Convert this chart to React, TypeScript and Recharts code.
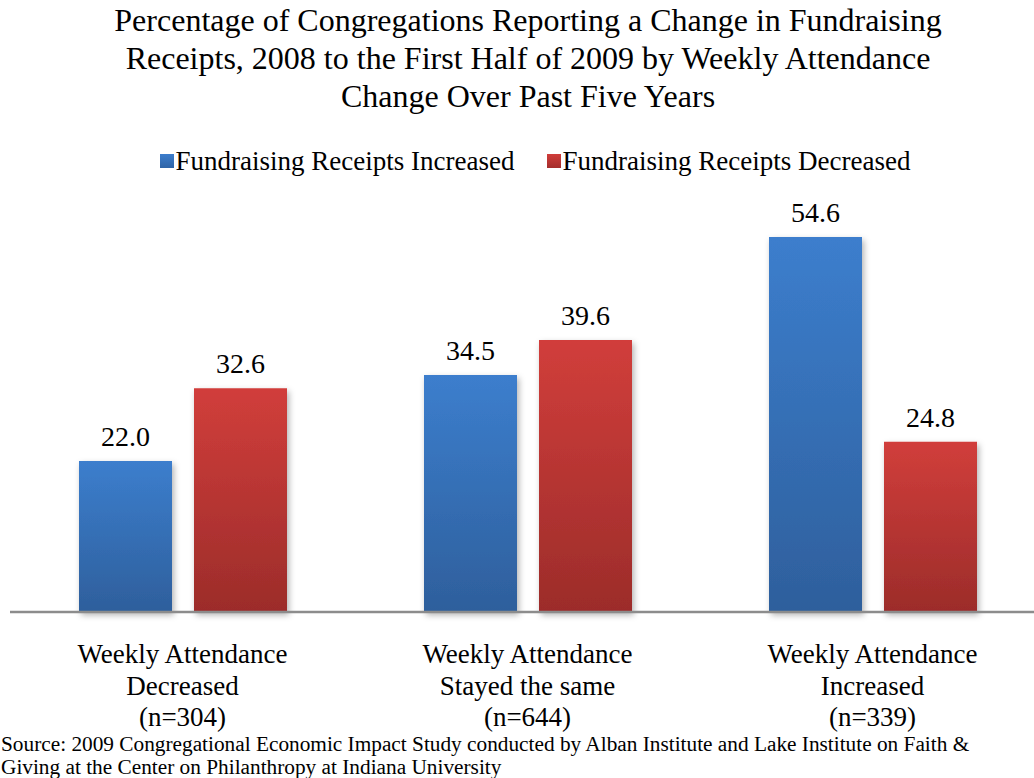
import React from 'react';
import { BarChart, Bar, XAxis, YAxis, LabelList } from 'recharts';

const categories = ['Weekly Attendance|Decreased|(n=304)', 'Weekly Attendance|Stayed the same|(n=644)', 'Weekly Attendance|Increased|(n=339)'];
const increased = [22.0, 34.5, 54.6];
const decreased = [32.6, 39.6, 24.8];

const data = categories.map((c, i) => ({ name: c, inc: increased[i], dec: decreased[i] }));

const FONT = '"Liberation Serif", "Times New Roman", serif';

const CategoryTick = (props: any) => {
  const { x, y, payload } = props;
  const lines = String(payload.value).split('|');
  return (
    <text x={x} y={y} textAnchor="middle" fontFamily={FONT} fontSize={27} fill="#000">
      {lines.map((l, i) => (
        <tspan key={i} x={x} dy={i === 0 ? 43 : 31.5}>{l}</tspan>
      ))}
    </text>
  );
};

export default function App() {
  return (
    <div style={{ position: 'absolute', left: 0, top: 0, width: 1034, height: 778, overflow: 'hidden', background: '#fff' }}>
      <div style={{ position: 'absolute', left: 0, top: 1, width: 1056, textAlign: 'center', fontFamily: FONT, fontSize: 32, lineHeight: '38px', color: '#000' }}>
        Percentage of Congregations Reporting a Change in Fundraising<br />
        Receipts, 2008 to the First Half of 2009 by Weekly Attendance<br />
        Change Over Past Five Years
      </div>
      <div style={{ position: 'absolute', left: 0, top: 145, width: 1050, display: 'flex', justifyContent: 'center', fontFamily: FONT, fontSize: 27, lineHeight: '32px', color: '#000', paddingLeft: 20, boxSizing: 'border-box' }}>
        <span style={{ display: 'flex', alignItems: 'center', marginRight: 32 }}>
          <span style={{ width: 14, height: 14, background: 'linear-gradient(#3c7dcc, #2f64a6)', marginRight: 2 }} />
          Fundraising Receipts Increased
        </span>
        <span style={{ display: 'flex', alignItems: 'center' }}>
          <span style={{ width: 14, height: 14, background: 'linear-gradient(#d03d3a, #a52e2c)', marginRight: 2 }} />
          Fundraising Receipts Decreased
        </span>
      </div>
      <BarChart width={1050} height={778} data={data} margin={{ top: 200, right: 5, left: 10, bottom: 0 }} barGap={22} barSize={93}>
        <defs>
          <linearGradient id="gBlue" x1="0" y1="0" x2="0" y2="1">
            <stop offset="0%" stopColor="#3c7ecd" />
            <stop offset="100%" stopColor="#2e5f9c" />
          </linearGradient>
          <linearGradient id="gRed" x1="0" y1="0" x2="0" y2="1">
            <stop offset="0%" stopColor="#d13e3b" />
            <stop offset="100%" stopColor="#9c2c2a" />
          </linearGradient>
          <filter id="shadow" x="-10%" y="-10%" width="130%" height="120%">
            <feDropShadow dx="2" dy="3" stdDeviation="3" floodColor="#000" floodOpacity="0.3" />
          </filter>
        </defs>
        <XAxis dataKey="name" height={166} tickLine={false} axisLine={{ stroke: '#8c8c8c', strokeWidth: 2.5 }} tick={<CategoryTick />} interval={0} />
        <YAxis hide domain={[0, 60]} />
        <Bar dataKey="inc" fill="url(#gBlue)" filter="url(#shadow)" isAnimationActive={false}>
          <LabelList dataKey="inc" position="top" offset={15} formatter={(v: any) => Number(v).toFixed(1)} style={{ fontFamily: FONT, fontSize: 28, fill: '#000' }} />
        </Bar>
        <Bar dataKey="dec" fill="url(#gRed)" filter="url(#shadow)" isAnimationActive={false}>
          <LabelList dataKey="dec" position="top" offset={15} formatter={(v: any) => Number(v).toFixed(1)} style={{ fontFamily: FONT, fontSize: 28, fill: '#000' }} />
        </Bar>
      </BarChart>
      <div style={{ position: 'absolute', left: 1, top: 733, fontFamily: FONT, fontSize: 21.3, lineHeight: '23px', color: '#000' }}>
        Source: 2009 Congregational Economic Impact Study conducted by Alban Institute and Lake Institute on Faith &amp;<br />
        Giving at the Center on Philanthropy at Indiana University
      </div>
    </div>
  );
}
